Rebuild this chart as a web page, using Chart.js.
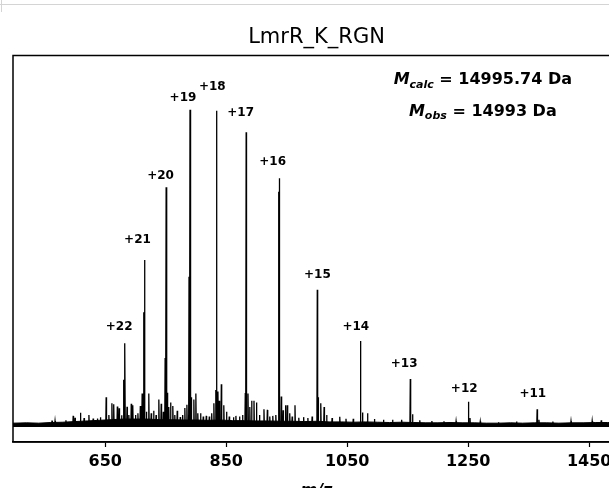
<!DOCTYPE html>
<html><head><meta charset="utf-8">
<script src="https://cdn.jsdelivr.net/npm/chart.js@4"></script>
<style>
html,body{margin:0;padding:0;overflow:hidden;background:#fff;width:609px;height:488px;}
#wrap{position:absolute;left:0;top:0;width:622px;height:500px;}
#topline{position:absolute;left:0;top:4px;width:609px;height:0;border-top:1px solid #d4d4d4;}
#leftline{position:absolute;left:1px;top:0;width:0;height:12px;border-left:1px solid #d4d4d4;}
</style></head><body>
<div id="wrap"><canvas id="c"></canvas></div>
<div id="topline"></div><div id="leftline"></div>
<script>
const titleText = 'LmrR_K_RGN';
const xTicks = [650, 850, 1050, 1250, 1450];
const xRange = [497.5, 1501];
const yRange = [-5.06, 117.2];

const chargeLabels = ['+22','+21','+20','+19','+18','+17','+16','+15','+14','+13','+12','+11'];
const chargeLabelMz = [673, 703.3, 741.4, 778.5, 827, 873.8, 926.8, 1000.8, 1064.2, 1144.2, 1243.5, 1356.8];
const chargeLabelInt = [31.3, 58.9, 79.1, 103.7, 107.2, 99, 83.6, 47.8, 31.4, 19.6, 11.7, 10.1];

const peakMz = [
 562, 567, 585, 597, 600, 609, 615, 623, 630, 637, 642, 651.5, 656, 661, 664, 670, 673, 677,
 680.5, 682.5, 686, 689, 693, 695.5, 700, 704, 708, 711, 713.4, 714.96, 718, 722, 726, 730, 734,
 738.6, 742.5, 746, 749, 750.66, 752.5, 755, 758, 761.7, 765, 769, 774, 778, 781.6, 785,
 788.5, 790.12, 792, 796.5, 799.8, 803, 807.6, 812, 817, 822, 826, 829.6, 832.5, 833.95, 836.3,
 838.5, 841.9, 846, 850.5, 855, 862, 866, 872, 877, 881.5, 882.95, 886, 889, 892, 895.9, 900,
 905, 912.4, 918, 922, 927, 932, 936.8, 938.07, 941, 944, 948, 951, 955, 959, 963.7, 970, 978,
 985, 992, 1000.54, 1001.8, 1006.3, 1011.8, 1016, 1025, 1037.7, 1048, 1060, 1071.94, 1075.3,
 1083.6, 1095, 1110, 1125, 1140, 1154.32, 1158, 1170, 1190, 1210, 1230, 1250.42, 1253, 1270,
 1300, 1330, 1364.0, 1367, 1390, 1420, 1455, 1470, 1485
];
const peakInt = [
 1.7, 1.6, 1.8, 3.2, 2.6, 4.2, 2.5, 3.5, 2.4, 2.4, 2.8, 9.1, 3.5, 7.2, 6.9, 6.2, 5.6, 3.4,
 14.6, 26.2, 6.1, 3.5, 7.0, 6.6, 3.5, 4.0, 6.3, 10.3, 36.0, 52.5, 4.5, 10.3, 4.0, 4.8, 3.5,
 8.4, 7.0, 4.5, 21.5, 75.5, 10.5, 6.0, 7.4, 6.3, 3.5, 4.8, 2.8, 3.5, 5.7, 6.7,
 47.2, 100, 9.1, 8.4, 10.3, 4.0, 4.0, 3.0, 3.2, 3.0, 4.0, 7.2, 11.4, 99.7, 10.9,
 8.0, 13.2, 6.6, 4.5, 3.0, 2.8, 3.2, 3.0, 3.5, 10.4, 92.9, 10.3, 6.0, 8.0, 8.0, 7.4,
 3.5, 5.3, 5.1, 3.0, 3.2, 3.5, 74.1, 78.4, 9.3, 5.0, 6.6, 6.6, 4.0, 3.0, 6.6, 2.6, 2.8,
 2.5, 3.0, 43.1, 9.1, 7.2, 6.0, 3.5, 2.5, 2.9, 2.3, 2.3, 26.9, 4.3,
 4.0, 2.2, 2.0, 2.0, 2.0, 14.9, 3.7, 1.8, 1.6, 1.5, 1.5, 7.7, 2.5, 1.4,
 1.2, 1.4, 5.3, 2.0, 1.4, 1.5, 1.6, 1.8, 1.7
];

const envMz = [497.5, 520, 540, 560, 580, 600, 620, 640, 660, 680, 700, 720, 740, 760, 780, 800, 820, 840, 860, 880,
 900, 920, 940, 960, 980, 1000, 1020, 1040, 1060, 1080, 1100, 1120, 1140, 1160, 1180, 1200, 1220, 1240, 1260, 1280,
 1300, 1320, 1340, 1360, 1380, 1400, 1420, 1440, 1460, 1480, 1501];
const envInt = [0.9, 1.0, 0.9, 1.1, 1.2, 1.4, 1.6, 1.8, 2.0, 2.2, 2.2, 2.2, 2.0, 2.0, 1.9, 1.9, 1.8, 1.9, 1.7, 1.7,
 1.6, 1.6, 1.5, 1.5, 1.4, 1.5, 1.3, 1.3, 1.2, 1.3, 1.2, 1.1, 1.2, 1.1, 1.0, 1.0, 1.1, 1.0, 1.0, 0.9,
 0.9, 1.0, 0.9, 1.0, 1.0, 0.9, 1.0, 1.0, 1.1, 1.1, 1.0];

const massCalc = '14995.74';
const massObs = '14993';

const FONT = "'DejaVu Sans', sans-serif";
const baseLevel = 0.5, halfWidth = 0.6;
const spectrum = [{x: xRange[0], y: baseLevel}];
peakMz.forEach((m, i) => {
  spectrum.push({x: m - halfWidth, y: baseLevel}, {x: m, y: peakInt[i]}, {x: m + halfWidth, y: baseLevel});
});
spectrum.push({x: xRange[1], y: baseLevel});
const envelope = envMz.map((m, i) => ({x: m, y: envInt[i]}));

const overlay = {
  id: 'overlay',
  afterDatasetsDraw(chart) {
    const {ctx, chartArea: a, scales: {x, y}} = chart;
    ctx.save();
    // frame
    ctx.strokeStyle = '#000'; ctx.lineWidth = 1.5;
    ctx.strokeRect(a.left, a.top, a.right - a.left, a.bottom - a.top);
    // charge labels
    ctx.fillStyle = '#000';
    ctx.font = 'bold 12px ' + FONT;
    ctx.textAlign = 'center'; ctx.textBaseline = 'middle';
    chargeLabels.forEach((t, i) => {
      ctx.fillText(t, x.getPixelForValue(chargeLabelMz[i]), y.getPixelForValue(chargeLabelInt[i]));
    });
    // mass annotations
    const cx = a.left + 0.774 * (a.right - a.left);
    const drawMass = (sub, val, fy) => {
      const cy = a.top + fy * (a.bottom - a.top);
      const fM = 'italic bold 16px ' + FONT, fS = 'italic bold 11px ' + FONT, fR = 'bold 16px ' + FONT;
      const rest = ' = ' + val + ' Da';
      ctx.font = fM; const wM = ctx.measureText('M').width;
      ctx.font = fS; const wS = ctx.measureText(sub).width;
      ctx.font = fR; const wR = ctx.measureText(rest).width;
      let sx = cx - (wM + wS + wR) / 2;
      ctx.textAlign = 'left'; ctx.textBaseline = 'alphabetic';
      const base = cy + 6;
      ctx.font = fM; ctx.fillText('M', sx, base); sx += wM;
      ctx.font = fS; ctx.fillText(sub, sx, base + 3.5); sx += wS;
      ctx.font = fR; ctx.fillText(rest, sx, base);
    };
    drawMass('calc', massCalc, 0.059);
    drawMass('obs', massObs, 0.141);
    ctx.restore();
  }
};

new Chart(document.getElementById('c'), {
  type: 'line',
  data: {
    datasets: [
      {data: envelope, borderColor: '#000', backgroundColor: '#000', borderWidth: 1, pointRadius: 0,
       fill: {value: -0.3}, tension: 0, order: 2},
      {data: spectrum, borderColor: '#000', borderWidth: 1.3, pointRadius: 0, fill: false, tension: 0, order: 1}
    ]
  },
  options: {
    responsive: true, maintainAspectRatio: false, animation: false, devicePixelRatio: 1,
    layout: {padding: {left: 13, right: 2, top: 0, bottom: 0}},
    plugins: {
      legend: {display: false}, tooltip: {enabled: false},
      title: {display: true, text: titleText, color: '#000', padding: {top: 25, bottom: 5.3},
              font: {family: FONT, size: 21, weight: 'normal'}}
    },
    scales: {
      x: {
        type: 'linear', min: xRange[0], max: xRange[1],
        afterBuildTicks: s => { s.ticks = xTicks.map(v => ({value: v})); },
        afterFit: s => { s.height = 58; },
        ticks: {callback: v => String(v), color: '#000', padding: 5, maxRotation: 0, autoSkip: false,
                font: {family: FONT, size: 16, weight: 'bold'}},
        grid: {display: true, drawOnChartArea: false, drawTicks: true, tickLength: 5, tickWidth: 1.2, tickColor: '#000'},
        border: {display: true, color: '#000', width: 1.5},
        title: {display: true, text: 'm/z', color: '#000', padding: {top: 0, bottom: 0},
                font: {family: FONT, size: 16, weight: 'bold', style: 'italic'}}
      },
      y: {type: 'linear', min: yRange[0], max: yRange[1], display: false}
    }
  },
  plugins: [overlay]
});
</script>
</body></html>
